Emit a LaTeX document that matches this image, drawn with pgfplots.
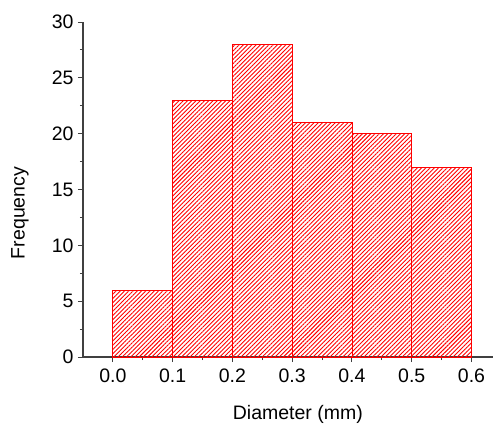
\documentclass[border=0pt]{standalone}
\usepackage{pgfplots}
\pgfplotsset{compat=1.18}
\usepackage{fontspec}
\setmainfont{Liberation Sans}
\usetikzlibrary{patterns.meta}
\begin{document}
\begin{tikzpicture}
\path[use as bounding box] (-83pt,-67pt) rectangle (411pt,357pt);
\begin{axis}[
  at={(0pt,0pt)}, anchor=south west,
  scale only axis, width=410pt, height=335pt,
  axis lines*=left,
  axis line style={black!75, line width=1.1pt},
  xmin=-0.05, xmax=0.636, ymin=0, ymax=30,
  xtick={0,0.1,0.2,0.3,0.4,0.5,0.6},
  ytick={0,5,10,15,20,25,30},
  minor x tick num=1, minor y tick num=1,
  tick align=outside,
  major tick length=5pt, minor tick length=3pt,
  tick style={black!75, line width=1pt},
  /pgf/number format/assume math mode=true,
  xticklabel style={/pgf/number format/fixed, /pgf/number format/fixed zerofill, /pgf/number format/precision=1, anchor=north, yshift=-3pt},
  yticklabel style={anchor=east, xshift=-1pt},
  tick label style={font=\fontsize{19.5}{23}\selectfont},
  label style={font=\fontsize{19.5}{23}\selectfont},
  xlabel={Diameter (mm)},
  ylabel={Frequency},
  xlabel style={at={(axis description cs:0.524,0)}, anchor=center, yshift=-57pt},
  ylabel style={at={(axis description cs:0,0.43)}, anchor=center, yshift=63pt},
  clip=false,
]
\addplot[ybar interval, draw=red, line width=0.9pt,
  pattern={Lines[angle=45, distance=3pt, line width=0.9pt]}, pattern color=red]
  coordinates {(0,6) (0.1,23) (0.2,28) (0.3,21) (0.4,20) (0.5,17) (0.6,17)};
\end{axis}
\end{tikzpicture}
\end{document}
